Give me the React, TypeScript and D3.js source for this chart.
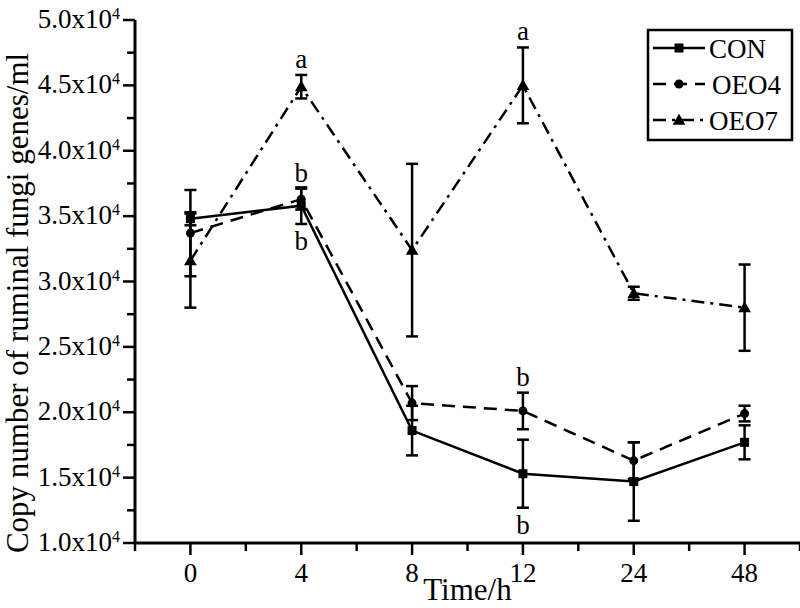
import React from 'react';
import * as d3 from 'd3';

// copy number of ruminal fungi genes/ml
const times = ['0', '4', '8', '12', '24', '48'];
const conMean = [34800, 35800, 18600, 15300, 14700, 17700];
const conErr = [500, 1400, 1900, 2600, 3000, 1300];
const oeo4Mean = [33700, 36300, 20700, 20100, 16300, 19900];
const oeo4Err = [3300, 800, 1300, 1400, 1400, 600];
const oeo7Mean = [31600, 44900, 32400, 45000, 29100, 28000];
const oeo7Err = [3600, 900, 6600, 2900, 500, 3300];
const yTicks = [10000, 15000, 20000, 25000, 30000, 35000, 40000, 45000, 50000];

// significance letters: [time, series, letter, above|below]
const marks: [string, string, string, string][] = [
  ['4', 'OEO7', 'a', 'above'],
  ['4', 'OEO4', 'b', 'above'],
  ['4', 'CON', 'b', 'below'],
  ['12', 'OEO7', 'a', 'above'],
  ['12', 'OEO4', 'b', 'above'],
  ['12', 'CON', 'b', 'below'],
];

const series = [
  { name: 'CON', mean: conMean, err: conErr, dash: 'none', shape: 'square' },
  { name: 'OEO4', mean: oeo4Mean, err: oeo4Err, dash: '13,8', shape: 'circle' },
  { name: 'OEO7', mean: oeo7Mean, err: oeo7Err, dash: '13,6,3,6', shape: 'triangle' },
];

const FONT = '"Liberation Serif", "Times New Roman", serif';

function Marker({ shape, x, y }: { shape: string; x: number; y: number }) {
  if (shape === 'square') return <rect x={x - 4.5} y={y - 4.5} width={9} height={9} fill="#000" />;
  if (shape === 'circle') return <circle cx={x} cy={y} r={4.5} fill="#000" />;
  const tri = d3.symbol().type(d3.symbolTriangle).size(70)();
  return <path d={tri || ''} transform={`translate(${x},${y + 1})`} fill="#000" />;
}

export default function App() {
  const left = 135, right = 800, top = 20, bottom = 543;

  const x = d3.scalePoint<string>().domain(times).range([left, right]).padding(0.5);
  const y = d3.scaleLinear().domain([10000, 50000]).range([bottom, top]);
  const step = x.step();

  const minorX = d3.range(times.length + 1).map(i => left + i * step);
  const minorY = d3.range(10000, 50001, 2500).filter(v => v % 5000 !== 0);

  const line = d3.line<number>()
    .x((_, i) => x(times[i]) as number)
    .y(d => y(d));

  return (
    <svg width={800} height={608} style={{ position: 'absolute', left: 0, top: 0, background: '#fff' }}
      fontFamily={FONT}>
      {/* axes */}
      <line x1={left} x2={left} y1={top} y2={bottom + 1} stroke="#000" strokeWidth={3} />
      <line x1={left - 1} x2={right} y1={bottom} y2={bottom} stroke="#000" strokeWidth={3} />

      {yTicks.map(v => (
        <g key={v}>
          <line x1={left - 12} x2={left} y1={y(v)} y2={y(v)} stroke="#000" strokeWidth={2.5} />
          <text x={112} y={y(v) + 8} textAnchor="end" fontSize={27}>{(v / 1e4).toFixed(1)}x10</text>
          <text x={112} y={y(v) - 1} textAnchor="start" fontSize={16}>4</text>
        </g>
      ))}
      {minorY.map(v => (
        <line key={v} x1={left - 8} x2={left} y1={y(v)} y2={y(v)} stroke="#000" strokeWidth={2.5} />
      ))}

      {times.map(t => (
        <g key={t}>
          <line x1={x(t)} x2={x(t)} y1={bottom} y2={bottom + 12} stroke="#000" strokeWidth={2.5} />
          <text x={x(t)} y={582} textAnchor="middle" fontSize={27}>{t}</text>
        </g>
      ))}
      {minorX.map(v => (
        <line key={v} x1={v} x2={v} y1={bottom} y2={bottom + 8} stroke="#000" strokeWidth={2.5} />
      ))}

      <text x={(left + right) / 2} y={600} textAnchor="middle" fontSize={31}>Time/h</text>
      <text transform="translate(27.5,303) rotate(-90)" textAnchor="middle" fontSize={31}>
        Copy number of ruminal fungi genes/ml
      </text>

      {/* series */}
      {series.map(s => (
        <g key={s.name}>
          <path d={line(s.mean) || ''} fill="none" stroke="#000" strokeWidth={2.5}
            strokeDasharray={s.dash} />
          {s.mean.map((m, i) => {
            const cx = x(times[i]) as number;
            const hi = y(m + s.err[i]), lo = y(m - s.err[i]);
            return (
              <g key={i}>
                <line x1={cx} x2={cx} y1={hi} y2={lo} stroke="#000" strokeWidth={2.5} />
                <line x1={cx - 6} x2={cx + 6} y1={hi} y2={hi} stroke="#000" strokeWidth={2.5} />
                <line x1={cx - 6} x2={cx + 6} y1={lo} y2={lo} stroke="#000" strokeWidth={2.5} />
                <Marker shape={s.shape} x={cx} y={y(m)} />
              </g>
            );
          })}
        </g>
      ))}

      {marks.map(([t, name, letter, pos], k) => {
        const s = series.find(d => d.name === name)!;
        const i = times.indexOf(t);
        const yy = pos === 'above' ? y(s.mean[i] + s.err[i]) - 7 : y(s.mean[i] - s.err[i]) + 26;
        return (
          <text key={k} x={x(t)} y={yy} textAnchor="middle" fontSize={27}>{letter}</text>
        );
      })}

      {/* legend */}
      <rect x={648} y={30} width={144} height={110} fill="#fff" stroke="#000" strokeWidth={2.5} />
      {series.map((s, i) => {
        const ly = 48 + i * 36;
        return (
          <g key={s.name}>
            <line x1={653} x2={705} y1={ly} y2={ly} stroke="#000" strokeWidth={2.5} strokeDasharray={s.dash} />
            <Marker shape={s.shape} x={679} y={ly} />
            <text x={i === 1 ? 712 : 709} y={ly + 10} fontSize={27}>{s.name}</text>
          </g>
        );
      })}
    </svg>
  );
}
